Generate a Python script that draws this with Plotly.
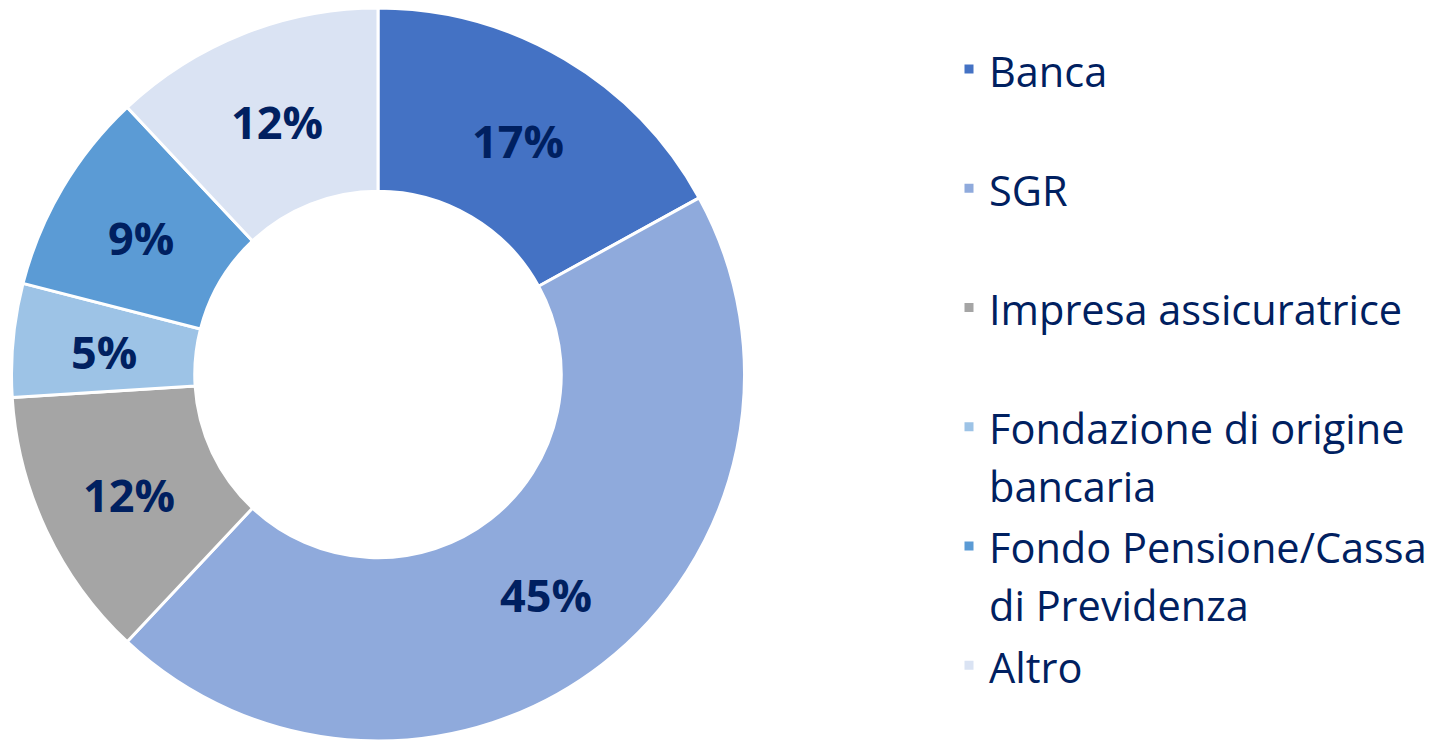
import math
import plotly.graph_objects as go

legend_text = ["Banca", "SGR", "Impresa assicuratrice", "Fondazione di origine<br>bancaria",
               "Fondo Pensione/Cassa<br>di Previdenza", "Altro"]
values = [17, 45, 12, 5, 9, 12]
colors = ["#4472C4", "#8FAADC", "#A5A5A5", "#9DC3E6", "#5B9BD5", "#DAE3F3"]

W, H = 1446, 741
# page has an 8px body margin, so figure coords are offset
cx, cy, r = 370, 366.5, 366.5
hole = 0.5

def fmt_legend(t, last):
    s = '<span style="font-size:41.5px">' + t + '</span>'
    if "<br>" not in t and not last:
        s += "<br>\u00a0"
    return s

n = len(legend_text)
fig = go.Figure(go.Pie(
    labels=[fmt_legend(t, i == n - 1) for i, t in enumerate(legend_text)],
    values=values,
    sort=False,
    direction="clockwise",
    rotation=0,
    hole=hole,
    marker=dict(colors=colors, line=dict(color="white", width=3)),
    textinfo="none",
    domain=dict(x=[(cx - r) / W, (cx + r) / W], y=[(H - cy - r) / H, (H - cy + r) / H]),
))

# percentage labels at the middle of the ring, at each slice's mid-angle
total = sum(values)
rm = r * (1 + hole) / 2
cum = 0
annotations = []
for v in values:
    theta = 2 * math.pi * (cum + v / 2) / total
    cum += v
    px = cx + rm * math.sin(theta)
    py = cy - rm * math.cos(theta)
    annotations.append(dict(
        x=px / W, y=1 - py / H, xref="paper", yref="paper",
        text=f"<b>{v / total:.0%}</b>", showarrow=False,
        xanchor="center", yanchor="middle", yshift=-3,
        font=dict(family="Open Sans", size=45, color="#002060"),
    ))

fig.update_layout(
    width=W, height=H,
    margin=dict(l=0, r=0, t=0, b=0),
    paper_bgcolor="white",
    plot_bgcolor="white",
    showlegend=True,
    annotations=annotations,
    legend=dict(
        x=941 / W, xanchor="left",
        y=1 - 25.5 / H, yanchor="top",
        valign="top",
        font=dict(family="Open Sans", size=44.7, color="#002060"),
        bgcolor="rgba(0,0,0,0)",
    ),
)

fig.write_html("out.html")
